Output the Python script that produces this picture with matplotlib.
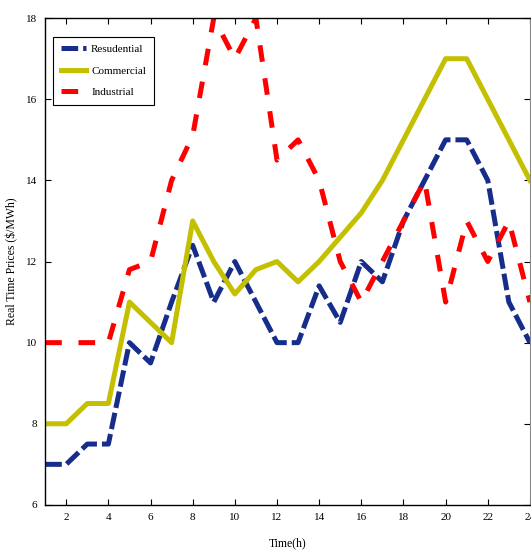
import matplotlib
matplotlib.use('Agg')
import matplotlib.pyplot as plt

plt.rcParams['font.family'] = ['Liberation Serif', 'DejaVu Serif']
plt.rcParams['lines.scale_dashes'] = False

# hourly real time prices
hours = list(range(1, 25))
residential = [7, 7, 7.5, 7.5, 10, 9.5, 11, 12.4, 11, 12, 11, 10,
               10, 11.4, 10.5, 12, 11.5, 13, 14, 15, 15, 14, 11, 10]
commercial = [8, 8, 8.5, 8.5, 11, 10.5, 10, 13, 12, 11.2, 11.8, 12,
              11.5, 12, 12.6, 13.2, 14, 15, 16, 17, 17, 16, 15, 14]
industrial = [10, 10, 10, 10, 11.8, 12, 14, 15.1, 18, 17, 18, 14.5,
              15, 14, 12, 11, 12, 13, 14, 11, 13, 12, 13, 11]

fig = plt.figure(figsize=(5.31, 5.5), dpi=100)
ax = fig.add_axes([0.085, 0.082, 0.913, 0.885])

ax.plot(hours, residential, color='#162d8c', lw=3.6, dashes=(12, 3.6),
        label='Resudential')
ax.plot(hours, commercial, color='#c4c000', lw=3.6, label='Commercial')
ax.plot(hours, industrial, color='#ff0000', lw=3.6, dashes=(12, 12),
        label='Industrial')

ax.set_xlim(1, 24)
ax.set_ylim(6, 18)
ax.set_xticks(range(2, 25, 2))
ax.set_yticks(range(6, 19, 2))
ax.tick_params(direction='in', top=True, right=True, length=4, width=0.8,
               labelsize=8, pad=6)
ax.spines['right'].set_color('#888888')
for s in ['left', 'bottom', 'top']:
    ax.spines[s].set_linewidth(1.0)

ax.set_xlabel('Time(h)', fontsize=8.5, labelpad=11)
ax.set_ylabel('Real Time Prices ($/MWh)', fontsize=8.5, labelpad=5)

leg = ax.legend(loc='upper left', bbox_to_anchor=(0.017, 0.962), fontsize=8,
                fancybox=False, edgecolor='black', framealpha=1,
                handlelength=2.2, handletextpad=0.5, labelspacing=1.05,
                borderpad=0.7, borderaxespad=0)
leg.get_frame().set_linewidth(0.8)

fig.savefig('out.png', dpi=100)
